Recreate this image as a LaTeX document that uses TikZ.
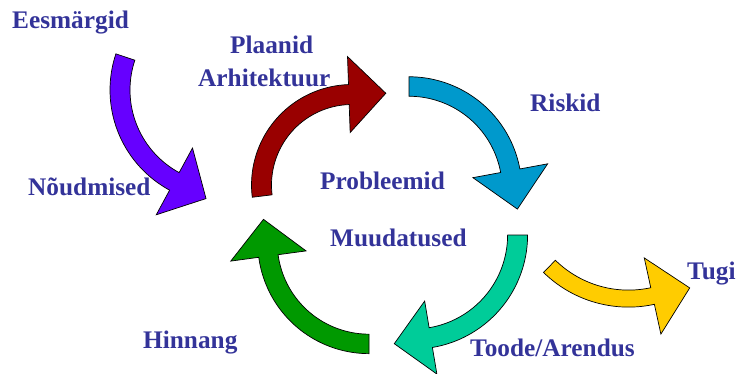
\documentclass[tikz,border=0pt]{standalone}
\usepackage{fontspec}
\setmainfont{Liberation Serif}
\definecolor{txt}{HTML}{333399}
\definecolor{cPurple}{HTML}{6600FF}
\definecolor{cRed}{HTML}{990000}
\definecolor{cBlue}{HTML}{0099CC}
\definecolor{cTeal}{HTML}{00CC99}
\definecolor{cGreen}{HTML}{009900}
\definecolor{cYellow}{HTML}{FFCC00}
% #1 cx, #2 cy, #3 tail angle, #4 head angle, #5 R, #6 half band, #7 half head, #8 head length, #9 colour
\newcommand\carw[9]{%
  \pgfmathsetmacro\sgn{ifthenelse(#4>#3,1,-1)}%
  \filldraw[arrowshape, fill=#9]
    plot[domain=#3:#4, samples=40] ({#1+(#5+#6)*cos(\x)},{#2+(#5+#6)*sin(\x)})
    -- ({#1+(#5+#7)*cos(#4)},{#2+(#5+#7)*sin(#4)})
    -- ({#1+#5*cos(#4)-\sgn*#8*sin(#4)},{#2+#5*sin(#4)+\sgn*#8*cos(#4)})
    -- ({#1+(#5-#7)*cos(#4)},{#2+(#5-#7)*sin(#4)})
    -- plot[domain=#4:#3, samples=40] ({#1+(#5-#6)*cos(\x)},{#2+(#5-#6)*sin(\x)})
    -- cycle;}
\begin{document}
\begin{tikzpicture}[x=1pt,y=-1pt,
  arrowshape/.style={draw=black, line width=0.7pt, line join=miter},
  lbl/.style={anchor=base west, inner sep=0pt, text=txt,
    font=\fontsize{25.3}{30}\selectfont\bfseries}]
\useasboundingbox (0,0) rectangle (738,373);
% arrows
\carw{224}{90}{198.5}{118.5}{104}{10}{38}{36}{cPurple}
\carw{352}{185}{173}{268}{90.5}{10}{38}{37}{cRed}
\carw{409}{189.5}{-90}{-10.5}{103}{9.75}{38}{39}{cBlue}
\carw{413.6}{235}{0}{80.5}{104}{10}{37}{37}{cTeal}
\carw{369}{242.4}{90}{172.3}{101.5}{9.75}{38}{37}{cGreen}
\carw{628.5}{185.6}{134.4}{77.7}{113}{8.5}{39}{38}{cYellow}
% labels
\node[lbl] (eesm) at (12,28.3) {Eesmärgid};
\node[lbl] (plaan) at (230,53.3) {Plaanid};
\node[lbl] (arhi) at (198,86) {Arhitektuur};
\node[lbl] (riski) at (530,111.7) {Riskid};
\node[lbl] (noud) at (28,195) {Nõudmised};
\node[lbl] (prob) at (320,189) {Probleemid};
\node[lbl] (muud) at (330,246.7) {Muudatused};
\node[lbl] (tugi) at (687,279) {Tugi};
\node[lbl] (hinn) at (143,348.3) {Hinnang};
\node[lbl] (toode) at (470,356) {Toode/Arendus};
\end{tikzpicture}
\end{document}
